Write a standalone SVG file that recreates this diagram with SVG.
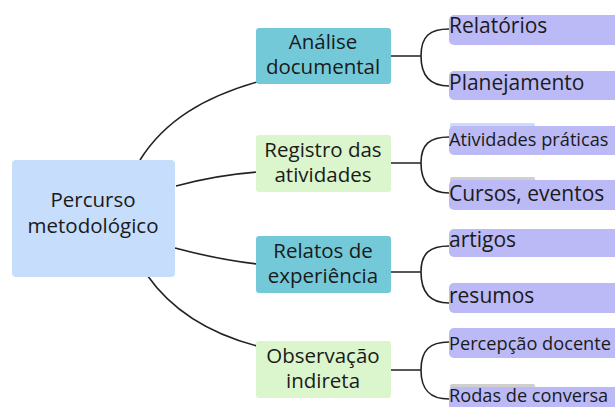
<svg xmlns="http://www.w3.org/2000/svg" width="615" height="407" viewBox="0 0 615 407">
<style>
text{font-family:"Open Sans","Noto Sans",sans-serif;fill:#1a1a1a}
.mid{font-size:20.5px;text-anchor:middle}
.leaf{font-size:21px}
.sm{font-size:18.2px}
.teal{fill:#74c9d9}
.green{fill:#dbf5cd}
.pur{fill:#bbbaf6}
.grey{fill:#cfcfcf}
.lblue{fill:#c6ddfc}
.con{fill:none;stroke:#222;stroke-width:1.6}
</style>
<rect width="615" height="407" fill="#fff"/>
<g id="connectors" class="con">
<path d="M140,160 C165,120 205,97 257,82"/>
<path d="M176,186 C205,178 230,174 257,172"/>
<path d="M175,248 C205,256 230,261 257,264"/>
<path d="M147,275 C175,315 215,335 257,346"/>
<path d="M391,56 H421 M421,56 C421,36 430,29 449,29 M421,56 C421,76 430,86 449,86"/>
<path d="M391,163 H421 M421,163 C421,144 430,137 449,137 M421,163 C421,183 430,193 449,193"/>
<path d="M391,272 H421 M421,272 C421,253 430,246 449,246 M421,272 C421,293 430,303 449,303"/>
<path d="M391,370 H421 M421,370 C421,350 430,342 449,342 M421,370 C421,390 430,399 449,399"/>
</g>
<g id="root">
<rect x="12" y="160" width="163" height="117" rx="4" class="lblue"/>
<text class="mid" x="93" y="207">Percurso<tspan x="93" dy="26">metodológico</tspan></text>
</g>
<g id="n-analise">
<rect x="256" y="28" width="135" height="56" rx="3" class="teal"/>
<text class="mid" x="323" y="49">Análise<tspan x="323" dy="25">documental</tspan></text>
</g>
<g id="n-registro">
<rect x="256" y="135" width="135" height="57" rx="3" class="green"/>
<text class="mid" x="323" y="157">Registro das<tspan x="323" dy="25">atividades</tspan></text>
</g>
<g id="n-relatos">
<rect x="256" y="236" width="135" height="57" rx="3" class="teal"/>
<text class="mid" x="323" y="258">Relatos de<tspan x="323" dy="25">experiência</tspan></text>
</g>
<g id="n-observacao">
<rect x="256" y="341" width="135" height="57" rx="3" class="green"/>
<text class="mid" x="323" y="363">Observação<tspan x="323" dy="25">indireta</tspan></text>
</g>
<g id="l-relatorios">
<rect x="449" y="15" width="175" height="30" rx="5" class="pur"/>
<text class="leaf" x="449" y="33">Relatórios</text>
</g>
<g id="l-planejamento">
<rect x="449" y="71" width="175" height="29" rx="5" class="pur"/>
<text class="leaf" x="449" y="90">Planejamento</text>
</g>
<g id="l-atividades">
<rect x="450" y="123" width="85" height="10" rx="2" class="lblue"/>
<rect x="449" y="126" width="175" height="29" rx="5" class="pur"/>
<text class="sm" x="449" y="146">Atividades práticas</text>
</g>
<g id="l-cursos">
<rect x="450" y="177" width="85" height="10" rx="2" class="grey"/>
<rect x="449" y="180" width="175" height="30" rx="5" class="pur"/>
<text class="leaf" x="449" y="201">Cursos, eventos</text>
</g>
<g id="l-artigos">
<rect x="449" y="229" width="175" height="28" rx="5" class="pur"/>
<text class="leaf" x="449" y="247">artigos</text>
</g>
<g id="l-resumos">
<rect x="449" y="283" width="175" height="30" rx="5" class="pur"/>
<text class="leaf" x="449" y="303">resumos</text>
</g>
<g id="l-percepcao">
<rect x="449" y="328" width="175" height="30" rx="5" class="pur"/>
<text class="sm" x="449" y="350">Percepção docente</text>
</g>
<g id="l-rodas">
<rect x="450" y="384" width="85" height="10" rx="2" class="grey"/>
<rect x="449" y="387" width="175" height="30" rx="5" class="pur"/>
<text class="sm" x="449" y="402">Rodas de conversa</text>
</g>
</svg>
